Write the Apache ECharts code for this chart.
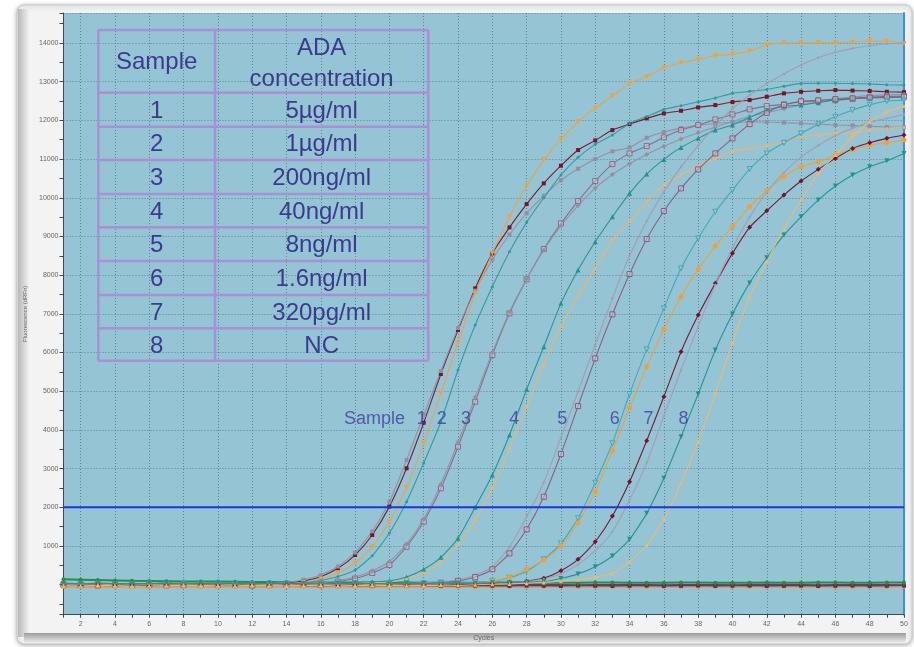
<!DOCTYPE html>
<html><head><meta charset="utf-8">
<script src="https://cdn.jsdelivr.net/npm/echarts@6/dist/echarts.min.js"></script>
<style>html,body{margin:0;padding:0;background:#ffffff;}#c{width:914px;height:647px;}</style>
</head><body><div id="c"></div>
<script>
// ---------- DATA ----------
const cycles = [1,2,3,4,5,6,7,8,9,10,11,12,13,14,15,16,17,18,19,20,21,22,23,24,25,26,27,28,29,30,31,32,33,34,35,36,37,38,39,40,41,42,43,44,45,46,47,48,49,50];

// sample 1 (duplicates)
const s1a = [30,-20,10,-10,0,10,-20,0,10,-10,0,20,10,40,100,207,424,767,1285,2018,3008,4186,5445,6580,7659,8563,9235,9837,10372,10828,11233,11483,11749,11904,12052,12181,12248,12336,12395,12473,12525,12610,12698,12739,12765,12783,12770,12760,12740,12730];
const s1b = [-10,20,0,30,-10,0,20,-10,0,10,20,0,30,60,130,250,470,830,1380,2145,3222,4385,5522,6633,7600,8400,9050,9600,10050,10450,10750,11000,11200,11300,11550,11700,11800,11870,11920,11950,11960,11960,11940,11920,11900,11880,11870,11850,11830,11820];
// sample 2
const s2a = [-40,-20,-50,-30,-40,-20,-30,-40,-30,-20,-30,-20,-10,20,60,140,300,560,982,1628,2507,3654,4946,6254,7530,8563,9509,10310,10974,11517,11964,12309,12628,12956,13127,13360,13490,13576,13669,13713,13791,13946,14006,14006,14010,14010,14020,14049,14045,13990];
const s2b = [10,0,-10,10,20,0,10,-10,0,10,0,-10,10,20,50,110,210,380,749,1336,2145,3145,4212,5548,6711,7700,8605,9365,10000,10587,11044,11380,11620,11922,12100,12284,12380,12480,12580,12698,12750,12800,12880,12956,12960,12960,12950,12940,12920,12912];
// sample 3
const s3a = [0,-10,10,0,-20,10,0,-10,20,0,10,-10,0,10,20,40,80,160,302,509,982,1628,2491,3566,4729,5935,7013,7892,8674,9338,9915,10432,10871,11147,11336,11561,11749,11878,12025,12155,12284,12369,12413,12480,12500,12520,12560,12600,12620,12630];
const s3b = [20,0,10,-10,0,20,10,0,-10,10,0,10,20,0,30,60,110,200,360,600,1050,1700,2600,3680,4850,6000,7050,7900,8650,9280,9800,10250,10600,10880,11120,11330,11520,11680,11830,11970,12100,12200,12300,12400,12480,12550,12600,12640,12660,12670];
// sample 4
const s4a = [40,20,30,10,30,20,40,10,20,30,20,10,30,20,20,30,40,50,70,100,200,400,708,1199,2000,2835,3868,5049,6150,7271,8133,8863,9509,10114,10612,10992,11302,11535,11749,11878,12077,12266,12369,12395,12456,12525,12560,12580,12590,12600];
const s4b = [-20,-30,-10,-20,-30,-20,-10,-30,-20,-10,-20,-30,-20,-10,-20,0,10,30,50,70,150,300,594,1026,1672,2491,3525,4600,5703,6667,7460,8176,8907,9380,9897,10329,10587,10820,11018,11189,11276,11336,11447,11577,11620,11663,11663,11749,11792,11818];
// sample 5
const s5a = [10,0,20,10,0,-10,10,0,20,10,0,10,-10,0,10,20,10,0,10,20,30,50,80,120,250,465,982,1757,2650,3800,5000,6200,7400,8500,9400,10150,10800,11350,11850,12300,12650,12950,13200,13430,13620,13760,13860,13930,13980,14000];
const s5b = [-10,0,-20,10,0,-10,-20,0,10,-10,0,-20,-10,0,10,-10,0,10,0,10,20,30,50,100,200,400,811,1431,2274,3377,4617,5850,6988,8029,8933,9657,10243,10734,11147,11535,11904,12196,12395,12499,12520,12550,12570,12590,12600,12610];
// sample 6
const s6a = [20,10,30,20,10,30,20,40,20,30,10,20,30,20,10,30,20,30,20,30,40,30,40,50,60,90,180,350,656,1069,1715,2636,3654,4928,6082,7142,8176,8951,9638,10200,10742,11147,11420,11663,11900,12093,12266,12400,12499,12520];
const s6b = [-30,-40,-20,-30,-50,-30,-40,-20,-30,-40,-30,-20,-40,-30,-20,-30,-40,-30,-20,-30,-10,-20,0,20,40,90,200,400,638,1000,1602,2403,3463,4574,5633,6600,7442,8150,8752,9251,9768,10181,10543,10802,10931,11104,11250,11362,11422,11491];
// sample 7
const s7a = [0,-20,10,-10,0,-20,-10,0,10,-10,-20,0,-10,10,0,-10,-20,0,-10,0,10,0,10,20,30,40,60,90,170,362,656,1111,1775,2662,3721,4858,6021,6969,7788,8563,9235,9664,10070,10432,10734,11018,11276,11422,11535,11620];
const s7b = [10,0,-10,20,0,10,-10,0,10,20,0,-10,10,0,20,10,0,-10,10,0,20,10,20,30,40,50,60,80,150,280,520,880,1370,2188,3152,4359,5548,6667,7750,8700,9500,10150,10650,11050,11350,11600,11800,11950,12050,12150];
// sample 8
const s8a = [30,20,40,30,20,30,40,20,30,40,30,20,30,40,30,20,30,40,30,20,40,30,20,30,40,50,60,70,80,160,280,465,742,1172,1844,2749,3825,4928,6065,6995,7800,8450,9036,9509,9941,10303,10587,10802,10957,11147];
const s8b = [-20,-30,-10,-20,-40,-30,-20,-10,-30,-20,-30,-10,-20,-30,-20,-10,-30,-20,-10,-20,-30,-20,-10,-20,0,10,20,40,60,90,130,190,294,594,1026,1690,2620,3695,4946,6254,7442,8350,9209,9941,10630,11104,11577,11964,12222,12369];
// flat (non-amplifying) wells
const flatGreen  = [140,130,120,110,100,95,90,85,80,80,75,70,70,65,65,60,60,60,55,55,55,50,50,50,50,55,55,50,50,50,50,55,55,50,50,50,55,55,50,50,50,55,50,50,55,55,50,50,55,55];
const flatPurple = [-10,0,-10,0,-5,0,-10,-5,0,-10,-5,0,-5,-10,0,-5,0,-10,-5,0,-5,0,-10,-5,0,-5,-10,0,-5,0,-10,-5,0,-5,0,-10,-5,0,-5,-10,0,-5,0,-5,-10,0,-5,0,-5,-10];
const flatMaroon = [-30,-20,-30,-25,-30,-20,-25,-30,-20,-30,-25,-20,-30,-25,-20,-30,-25,-30,-20,-25,-30,-20,-25,-30,-20,-25,-30,-20,-25,-30,-20,-25,-30,-25,-20,-30,-25,-20,-30,-25,-20,-30,-25,-20,-30,-25,-20,-30,-25,-20];
const flatOrange = [-60,-50,-60,-55,-50,-60,-55,-50,-60,-55,-50,-60,-55,-50,-55,-60,-50,-55,-60,-50,-55,-60,-50,-55,-60,-50,-55,-60,-50,-55,-60,-50,-55,-60,-50,-55,-60,-50,-55,-60,-50,-55,-60,-50,-55,-60,-50,-55,-60,-50];

const thresholdValue = 2000;

const tableHeader = ['Sample', 'ADA', 'concentration'];
const tableSamples = ['1','2','3','4','5','6','7','8'];
const tableConc = ['5µg/ml','1µg/ml','200ng/ml','40ng/ml','8ng/ml','1.6ng/ml','320pg/ml','NC'];

const annotLabels = ['Sample','1','2','3','4','5','6','7','8'];
const annotCycles = [19.13,21.88,23.05,24.47,27.28,30.08,33.14,35.1,37.14];
const annotLevel = 4280;

// ---------- STYLES ----------
const styles = [
  {d:s1a, c:'#7a1428', sym:'rect', size:4},
  {d:s1b, c:'#968ea0', sym:'rect', size:4},
  {d:s2a, c:'#f3a03a', sym:'triangle', size:5, rot:180},
  {d:s2b, c:'#2b9c9c', sym:'circle', size:3},
  {d:s3a, c:'#8c6a86', sym:'rect', size:5, hollow:true},
  {d:s3b, c:'#968fa2', sym:'diamond', size:5},
  {d:s4a, c:'#1f9490', sym:'triangle', size:5},
  {d:s4b, c:'#f0b468', sym:'circle', size:3},
  {d:s5a, c:'#a49bad', sym:'diamond', size:3},
  {d:s5b, c:'#8b5c7c', sym:'rect', size:5, hollow:true},
  {d:s6a, c:'#3aabb4', sym:'triangle', size:5, rot:180, hollow:true},
  {d:s6b, c:'#f59e34', sym:'circle', size:5},
  {d:s7a, c:'#7a0f28', sym:'diamond', size:5},
  {d:s7b, c:'#a59cb0', sym:'diamond', size:3},
  {d:s8a, c:'#1e9490', sym:'triangle', size:5, rot:180},
  {d:s8b, c:'#f1b86c', sym:'triangle', size:4}
];
const flatStyles = [
  {d:flatOrange, c:'#e8952e', sym:'circle', size:4, w:1.2},
  {d:flatMaroon, c:'#6e1a2c', sym:'rect', size:4, w:1.2},
  {d:flatPurple, c:'#5b3c8c', sym:'rect', size:3, w:1.6},
  {d:flatGreen,  c:'#2f8a3c', sym:'circle', size:4, w:2}
];

function pairs(arr){ return arr.map((v,i)=>[cycles[i], v]); }

const series = [];
flatStyles.forEach(s=>{
  series.push({type:'line', data:pairs(s.d), symbol:s.sym, symbolSize:s.size, showSymbol:true,
    lineStyle:{color:s.c, width:s.w}, itemStyle:{color:s.c}, z:2, silent:true});
});
styles.forEach(s=>{
  series.push({type:'line', data:pairs(s.d), symbol:s.sym, symbolSize:s.size, symbolRotate:s.rot||0,
    showSymbol:true, smooth:0.2, lineStyle:{color:s.c, width:1.1, opacity:0.95},
    itemStyle: s.hollow ? {color:'rgba(215,205,220,0.45)', borderColor:s.c, borderWidth:1}
                        : {color:s.c, borderColor:s.c, borderWidth:0},
    z:3, silent:true});
});
// threshold line
series.push({type:'line', data:[[cycles[0],thresholdValue],[cycles[cycles.length-1],thresholdValue]],
  symbol:'none', lineStyle:{color:'#1d36dc', width:2}, z:4, silent:true});
// annotations "Sample 1 2 ..."
series.push({type:'scatter', data:annotCycles.map((c,i)=>({value:[c,annotLevel], name:annotLabels[i]})),
  symbolSize:0, z:5, silent:true,
  label:{show:true, position:'inside', formatter:p=>p.name, color:'#3e3e9c', fontSize:18, fontFamily:'Liberation Sans'}});

// ---------- TABLE (graphic overlay) ----------
const tL = 98.3, tM = 215, tR = 428.3;
const rowYs = [30, 92.7, 126.7, 160, 194, 227.3, 261, 295, 328.3, 360.7];
const tColor = '#a98fd4', txtColor = '#3c3a8e', tFont = '24px "Liberation Sans"';
const graphics = [];
// frame
graphics.push({type:'rect', z:-5, shape:{x:17,y:5,width:895,height:639,r:7},
  style:{fill:'#f3f3f3', stroke:'#c4c4c4', lineWidth:1, shadowBlur:5, shadowColor:'rgba(0,0,0,0.3)', shadowOffsetY:1}});
graphics.push({type:'rect', z:-4, shape:{x:18,y:9,width:11,height:628},
  style:{fill:new echarts.graphic.LinearGradient(0,0,1,0,[{offset:0,color:'#b8b8b8'},{offset:1,color:'#f1f1f1'}])}});
graphics.push({type:'rect', z:-4, shape:{x:24,y:633,width:882,height:9},
  style:{fill:new echarts.graphic.LinearGradient(0,0,0,1,[{offset:0,color:'#9c9c9c'},{offset:1,color:'#e6e6e6'}])}});
rowYs.forEach(y=>graphics.push({type:'line', z:20, shape:{x1:tL,y1:y,x2:tR,y2:y}, style:{stroke:tColor, lineWidth:2.5}}));
[tL,tM,tR].forEach(x=>graphics.push({type:'line', z:20, shape:{x1:x,y1:rowYs[0],x2:x,y2:rowYs[rowYs.length-1]}, style:{stroke:tColor, lineWidth:2.5}}));
const c1 = (tL+tM)/2, c2 = (tM+tR)/2;
graphics.push({type:'text', z:21, x:c1, y:(rowYs[0]+rowYs[1])/2+1, style:{text:tableHeader[0], font:tFont, fill:txtColor, align:'center', verticalAlign:'middle'}});
graphics.push({type:'text', z:21, x:c2, y:48.5, style:{text:tableHeader[1], font:tFont, fill:txtColor, align:'center', verticalAlign:'middle'}});
graphics.push({type:'text', z:21, x:c2, y:79.5, style:{text:tableHeader[2], font:tFont, fill:txtColor, align:'center', verticalAlign:'middle'}});
tableSamples.forEach((s,i)=>{
  const yc = (rowYs[i+1]+rowYs[i+2])/2+1.5;
  graphics.push({type:'text', z:21, x:c1, y:yc, style:{text:s, font:tFont, fill:txtColor, align:'center', verticalAlign:'middle'}});
  graphics.push({type:'text', z:21, x:c2, y:yc, style:{text:tableConc[i], font:tFont, fill:txtColor, align:'center', verticalAlign:'middle'}});
});

const axisTxt = {color:'#666', fontSize:7, fontFamily:'Liberation Sans'};
const chart = echarts.init(document.getElementById('c'), null, {renderer:'canvas'});
chart.setOption({
  animation:false,
  backgroundColor:'transparent',
  grid:{left:63.5, right:10, top:13, bottom:32.3, show:true, backgroundColor:'#95c4d4', borderWidth:0, containLabel:false},
  xAxis:{type:'value', min:1, max:50, minInterval:2, maxInterval:2,
    name:'Cycles', nameLocation:'middle', nameGap:20, nameTextStyle:{color:'#666', fontSize:7, fontFamily:'Liberation Sans'},
    axisLine:{show:true, onZero:false, lineStyle:{color:'#3f4a50', width:1}},
    axisTick:{show:true, length:3, lineStyle:{color:'#3f4a50'}},
    minorTick:{show:true, splitNumber:2, length:3, lineStyle:{color:'#3f4a50'}},
    axisLabel:{...axisTxt, margin:6, showMinLabel:false, formatter:v=>String(v)},
    splitLine:{show:true, lineStyle:{color:'rgba(50,70,80,0.5)', type:[1,2], width:1}}},
  yAxis:[{type:'value', min:-775, max:14775, minInterval:1000, maxInterval:1000,
    name:'Fluorescence (dRFn)', nameLocation:'middle', nameGap:24, nameRotate:90,
    nameTextStyle:{color:'#666', fontSize:6, fontFamily:'Liberation Sans'},
    axisLine:{show:true, lineStyle:{color:'#3f4a50', width:1}},
    axisTick:{show:true, length:4, lineStyle:{color:'#3f4a50'}},
    minorTick:{show:true, splitNumber:2, length:4, lineStyle:{color:'#3f4a50'}},
    axisLabel:{...axisTxt, margin:5, showMinLabel:false, showMaxLabel:false, formatter:v=>v===0?'':String(v)},
    splitLine:{show:true, lineStyle:{color:'rgba(50,70,80,0.5)', type:[1,2], width:1}}},
   {type:'value', position:'right', min:-775, max:14775, axisLine:{show:true, lineStyle:{color:'#3a8ee6', width:2}},
    axisTick:{show:false}, axisLabel:{show:false}, splitLine:{show:false}}],
  series:series,
  graphic:graphics
});
</script></body></html>
